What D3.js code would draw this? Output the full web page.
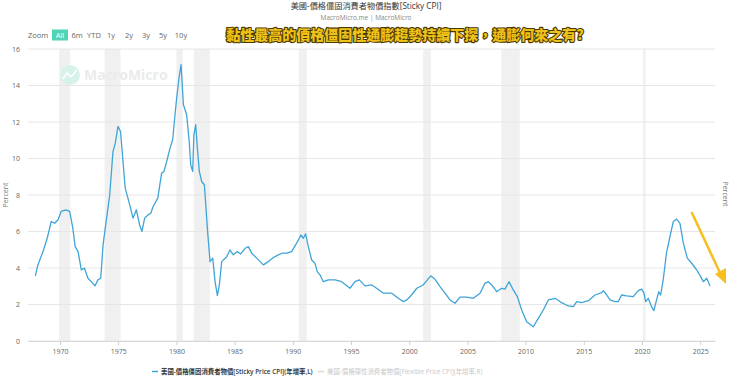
<!DOCTYPE html>
<html><head><meta charset="utf-8">
<script src="https://cdn.jsdelivr.net/npm/d3@7"></script>
<style>
html,body{margin:0;padding:0;background:#fff;}
svg{display:block;font-family:"Open Sans","Noto Sans CJK TC",sans-serif;}
</style></head>
<body><svg id="c" width="740" height="383"></svg>
<script>
// ---- data ----
const years = [1967.88,1968.1,1968.54,1968.9,1969.25,1969.54,1969.83,1970.1,1970.5,1970.83,1971.1,1971.3,1971.55,1971.83,1972.1,1972.4,1972.7,1973.0,1973.26,1973.5,1973.7,1974.0,1974.27,1974.55,1974.75,1974.98,1975.2,1975.41,1975.6,1975.99,1976.27,1976.56,1976.84,1977.04,1977.27,1977.56,1977.8,1978.0,1978.4,1978.73,1978.93,1979.17,1979.45,1979.68,1979.88,1980.02,1980.22,1980.4,1980.6,1980.88,1981.1,1981.23,1981.4,1981.5,1981.66,1981.8,1981.97,1982.17,1982.4,1982.54,1982.69,1982.89,1983.12,1983.32,1983.52,1983.69,1983.89,1984.32,1984.6,1984.89,1985.23,1985.52,1985.9,1986.18,1986.47,1986.9,1987.47,1987.9,1988.4,1988.76,1989.05,1989.48,1989.9,1990.33,1990.7,1990.9,1991.1,1991.33,1991.62,1991.9,1992.1,1992.34,1992.62,1993.05,1993.63,1994.2,1994.91,1995.34,1995.71,1996.2,1996.78,1997.2,1997.78,1998.5,1999.06,1999.5,1999.79,2000.2,2000.65,2001.2,2001.56,2001.85,2002.22,2002.65,2003.08,2003.5,2003.94,2004.36,2004.94,2005.5,2006.08,2006.51,2006.8,2007.09,2007.52,2007.94,2008.23,2008.57,2008.94,2009.29,2009.66,2010.09,2010.66,2011.09,2011.52,2011.95,2012.53,2013.1,2013.67,2014.1,2014.39,2014.82,2015.39,2015.96,2016.54,2016.68,2016.97,2017.25,2017.68,2017.96,2018.25,2018.68,2019.25,2019.68,2019.97,2020.17,2020.31,2020.53,2020.82,2021.02,2021.25,2021.44,2021.6,2021.82,2022.1,2022.4,2022.69,2022.98,2023.26,2023.55,2023.89,2024.27,2024.7,2025.04,2025.27,2025.56,2025.84];
const stickyCPI = [3.57,4.17,4.9,5.63,6.55,6.45,6.64,7.1,7.19,7.1,6.18,5.17,4.9,3.9,3.99,3.44,3.25,3.02,3.35,3.44,5.27,6.73,8.0,10.38,10.84,11.76,11.48,9.84,8.38,7.46,6.73,7.19,6.36,6.0,6.73,6.91,7.0,7.37,7.83,9.2,9.29,9.84,10.57,11.03,12.4,13.3,14.4,15.14,12.95,12.4,10.93,9.65,9.29,11.3,11.85,10.57,9.29,8.74,8.56,7.28,5.91,4.35,4.54,3.25,2.49,3.07,4.35,4.62,4.99,4.72,4.9,4.77,5.08,5.17,4.81,4.54,4.17,4.35,4.6,4.72,4.81,4.81,4.9,5.36,5.81,5.63,5.87,5.17,4.44,4.26,3.8,3.62,3.25,3.35,3.35,3.25,2.89,3.25,3.35,3.02,3.07,2.89,2.62,2.62,2.34,2.16,2.25,2.52,2.89,3.07,3.35,3.57,3.38,2.98,2.62,2.25,2.07,2.4,2.4,2.34,2.62,3.16,3.25,3.07,2.7,2.89,2.84,3.25,2.8,2.43,1.7,1.06,0.78,1.24,1.7,2.25,2.34,2.1,1.92,1.88,2.16,2.1,2.21,2.52,2.65,2.76,2.52,2.25,2.16,2.16,2.52,2.47,2.43,2.76,2.84,2.62,2.16,2.34,1.88,1.66,2.25,2.7,2.52,3.35,4.81,5.72,6.55,6.68,6.45,5.36,4.54,4.26,3.89,3.53,3.25,3.44,3.02];
const recessionStarts = [1969.92,1973.83,1980.0,1981.5,1990.5,2001.2,2007.92,2020.1];
const recessionEnds   = [1970.87,1975.2,1980.55,1982.87,1991.2,2001.87,2009.5,2020.3];
const xTicks = [1970,1975,1980,1985,1990,1995,2000,2005,2010,2015,2020,2025];
const yTicks = [0,2,4,6,8,10,12,14,16];
const zoomButtons = ["All","6m","YTD","1y","2y","3y","5y","10y"];
const titleText = "美國-價格僵固消費者物價指數[Sticky CPI]";
const subtitleText = "MacroMicro.me | MacroMicro";
const noteText = "黏性最高的價格僵固性通膨趨勢持續下探，通膨何來之有?";
const legendNames = ["美國-價格僵固消費者物價[Sticky Price CPI](年增率,L)","美國-價格彈性消費者物價[Flexible Price CPI](年增率,R)"];
const axisTitle = "Percent";

// ---- layout ----
const svg = d3.select("#c");
const L = 28, R = 715, T = 49, B = 341;
const x = d3.scaleLinear().domain([1967.25, 2026.27]).range([L, R]);
const y = d3.scaleLinear().domain([0, 16]).range([B, T]);
const lineColor = "#3fa4d8";

// recession bands
svg.append("g").selectAll("rect").data(recessionStarts).join("rect")
  .attr("x", (d) => x(d)).attr("y", T)
  .attr("width", (d, i) => x(recessionEnds[i]) - x(d))
  .attr("height", B - T).attr("fill", "#f0f0f0");

// grid
svg.append("g").selectAll("line").data(yTicks).join("line")
  .attr("x1", L).attr("x2", R).attr("y1", d => y(d)).attr("y2", d => y(d))
  .attr("stroke", "#e6e6e6").attr("stroke-width", 1);

// y axis labels
svg.append("g").selectAll("text").data(yTicks).join("text")
  .attr("x", 20).attr("y", d => y(d) + 2.5).attr("text-anchor", "end")
  .attr("font-size", 7).attr("fill", "#666").text(d => d);

// x axis
const xAxis = d3.axisBottom(x).tickValues(xTicks).tickFormat(d3.format("d")).tickSize(4).tickSizeOuter(0);
const xg = svg.append("g").attr("transform", `translate(0,${B})`).call(xAxis);
xg.select(".domain").attr("stroke", "#d8d8d8");
xg.selectAll(".tick line").attr("stroke", "#d0d0d0");
xg.selectAll(".tick text").attr("font-size", 7).attr("fill", "#666").attr("dy", "0.9em")
  .attr("font-family", "'Open Sans',sans-serif");

// axis titles
svg.append("text").attr("transform", "translate(8,195) rotate(-90)").attr("text-anchor", "middle")
  .attr("font-size", 7).attr("fill", "#777").text(axisTitle);
svg.append("text").attr("transform", "translate(723,194) rotate(90)").attr("text-anchor", "middle")
  .attr("font-size", 7).attr("fill", "#777").text(axisTitle);

// watermark
const wm = svg.append("g");
wm.append("circle").attr("cx", 70).attr("cy", 75).attr("r", 10).attr("fill", "#d6f2ea");
wm.append("path").attr("d", "M63,79 L67,73 L71,77 L77,70").attr("stroke", "#fff").attr("stroke-width", 1.5).attr("fill", "none");
wm.append("text").attr("x", 84).attr("y", 80).attr("font-size", 14).attr("font-weight", 700)
  .attr("fill", "#ebebeb").text("MacroMicro");

// line
const pts = years.map((d, i) => [d, stickyCPI[i]]);
svg.append("path").datum(pts)
  .attr("d", d3.line().x(d => x(d[0])).y(d => y(d[1])))
  .attr("fill", "none").attr("stroke", lineColor).attr("stroke-width", 1.3)
  .attr("stroke-linejoin", "round");

// title
svg.append("text").attr("x", 366).attr("y", 9).attr("text-anchor", "middle")
  .attr("font-size", 8.2).attr("fill", "#333").text(titleText);
svg.append("text").attr("x", 366).attr("y", 20).attr("text-anchor", "middle")
  .attr("font-size", 6.5).attr("fill", "#888").text(subtitleText);

// zoom buttons
svg.append("text").attr("x", 28).attr("y", 38).attr("font-size", 7.5).attr("fill", "#666").text("Zoom");
const btnX = [60, 77, 94, 111, 129, 146, 163, 181];
svg.append("rect").attr("x", 52).attr("y", 29.5).attr("width", 16).attr("height", 11).attr("fill", "#52d3b6");
svg.append("g").selectAll("text").data(zoomButtons).join("text")
  .attr("x", (d, i) => btnX[i]).attr("y", 38).attr("text-anchor", "middle")
  .attr("font-size", 7.5).attr("fill", (d, i) => i === 0 ? "#fff" : "#666").text(d => d);

// annotation
svg.append("text").attr("x", 405).attr("y", 40).attr("text-anchor", "middle")
  .attr("font-size", 14).attr("font-weight", 900)
  .attr("font-family", "'Noto Sans CJK TC',sans-serif")
  .attr("fill", "#eec21a").attr("stroke", "#4a3900").attr("stroke-width", 2.2)
  .attr("paint-order", "stroke").attr("stroke-linejoin", "round").text(noteText);

// arrow
const arrowColor = "#f7bf1e";
svg.append("line").attr("x1", 692).attr("y1", 213).attr("x2", 721).attr("y2", 275)
  .attr("stroke", arrowColor).attr("stroke-width", 2.5).attr("stroke-linecap", "round");
svg.append("path").attr("d", "M726,284 L715,274 L726,268 Z").attr("fill", arrowColor);

// legend
const lg = svg.append("g");
lg.append("line").attr("x1", 152).attr("x2", 158).attr("y1", 371.5).attr("y2", 371.5).attr("stroke", lineColor).attr("stroke-width", 1.5);
lg.append("text").attr("x", 161).attr("y", 374).attr("font-size", 6.4).attr("fill", "#333").attr("font-weight", 600).text(legendNames[0]);
lg.append("line").attr("x1", 318).attr("x2", 324).attr("y1", 371.5).attr("y2", 371.5).attr("stroke", "#d8d8d8").attr("stroke-width", 1.5);
lg.append("text").attr("x", 327).attr("y", 374).attr("font-size", 6.4).attr("fill", "#c8c8c8").text(legendNames[1]);
</script></body></html>
